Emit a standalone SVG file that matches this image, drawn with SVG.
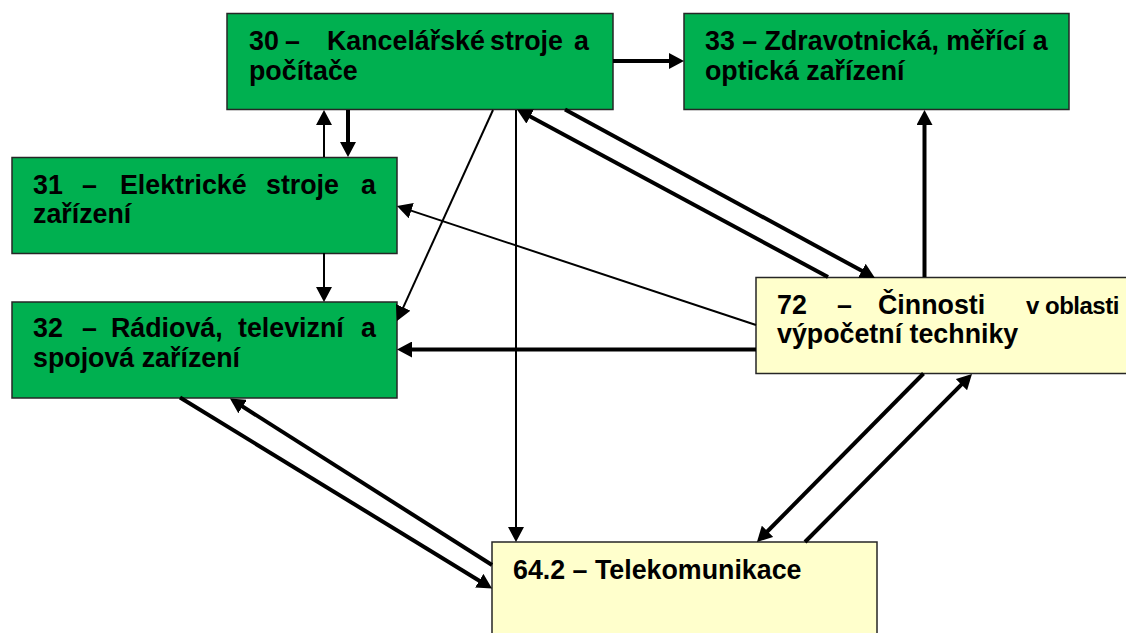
<svg xmlns="http://www.w3.org/2000/svg" width="1126" height="633" viewBox="0 0 1126 633">
<style>
.box{stroke:#262626;stroke-width:1.5}
.g{fill:#00B050}
.y{fill:#FFFFCC}
.t{font-family:"Liberation Sans",Arial,sans-serif;font-weight:bold;font-size:26.8px;fill:#000}
.thin{stroke:#000;stroke-width:2;fill:none;marker-end:url(#ah)}
.thick{stroke:#000;stroke-width:4;fill:none;marker-end:url(#ah)}
</style>
<defs>
<marker id="ah" markerUnits="userSpaceOnUse" viewBox="0 0 15 16" markerWidth="15" markerHeight="16" refX="1" refY="8" orient="auto">
<path d="M0,0 L15,8 L0,16 z" fill="#000"/>
</marker>
</defs>
<rect width="1126" height="633" fill="#fff"/>
<g id="n30">
<rect class="box g" x="227" y="13.5" width="386" height="96"/>
<text class="t" y="49.5"><tspan x="249">30</tspan><tspan x="285">–</tspan><tspan x="327">Kancelářské</tspan><tspan x="490">stroje</tspan><tspan x="574">a</tspan></text>
<text class="t" x="249" y="80">počítače</text>
</g>
<g id="n33">
<rect class="box g" x="684" y="13.5" width="385" height="96"/>
<text class="t" x="705" y="49.5">33 – Zdravotnická, měřící a</text>
<text class="t" x="705" y="80">optická zařízení</text>
</g>
<g id="n31">
<rect class="box g" x="12" y="157.5" width="385" height="96"/>
<text class="t" y="193.5"><tspan x="33">31</tspan><tspan x="82">–</tspan><tspan x="120">Elektrické</tspan><tspan x="266">stroje</tspan><tspan x="361">a</tspan></text>
<text class="t" x="33" y="223">zařízení</text>
</g>
<g id="n32">
<rect class="box g" x="12" y="302" width="385" height="96"/>
<text class="t" y="337"><tspan x="33">32</tspan><tspan x="82">–</tspan><tspan x="111">Rádiová,</tspan><tspan x="238">televizní</tspan><tspan x="361">a</tspan></text>
<text class="t" x="33" y="367">spojová zařízení</text>
</g>
<g id="n72">
<rect class="box y" x="756" y="277.5" width="385" height="96"/>
<text class="t" y="313.5"><tspan x="777">72</tspan><tspan x="837">–</tspan><tspan x="878">Činnosti</tspan><tspan x="1026" font-size="24" letter-spacing="-0.5">v oblasti</tspan></text>
<text class="t" x="777" y="343">výpočetní techniky</text>
</g>
<g id="n642">
<rect class="box y" x="492" y="542" width="385" height="96"/>
<text class="t" x="513" y="578.5">64.2 – Telekomunikace</text>
</g>
<g id="connectors">
<line class="thin" x1="324" y1="157" x2="324" y2="124"/>
<line class="thick" x1="348" y1="110" x2="348" y2="143"/>
<line class="thick" x1="613" y1="61" x2="670" y2="61"/>
<line class="thin" x1="493" y1="110" x2="402.8" y2="308.3"/>
<line class="thin" x1="516" y1="110" x2="516" y2="528"/>
<line class="thick" x1="828" y1="277" x2="529.3" y2="116.1"/>
<line class="thick" x1="565" y1="109.5" x2="862.7" y2="271.3"/>
<line class="thin" x1="756" y1="325" x2="410.3" y2="210.4"/>
<line class="thick" x1="756" y1="349.5" x2="411" y2="349.5"/>
<line class="thick" x1="924.5" y1="277" x2="924.5" y2="124"/>
<line class="thin" x1="324" y1="253" x2="324" y2="288"/>
<line class="thick" x1="180" y1="397.5" x2="480.1" y2="581.2"/>
<line class="thick" x1="492" y1="565" x2="241.8" y2="406"/>
<line class="thick" x1="923.5" y1="373.5" x2="766.8" y2="532"/>
<line class="thick" x1="805" y1="542" x2="962.1" y2="383.9"/>
</g>
</svg>
